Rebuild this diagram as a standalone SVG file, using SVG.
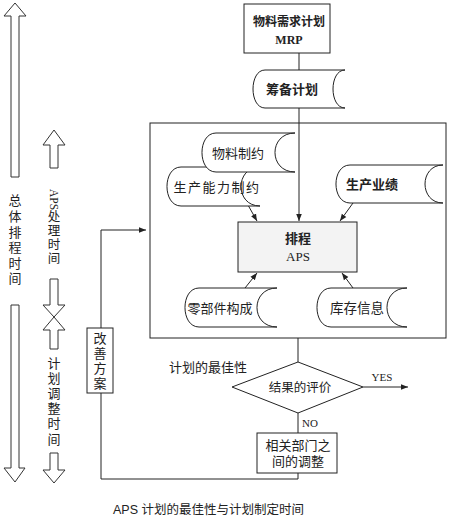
<svg xmlns="http://www.w3.org/2000/svg" width="449" height="518" viewBox="0 0 449 518">
<defs>
<marker id="ah" viewBox="0 0 10 10" refX="10" refY="5" markerWidth="7" markerHeight="7" markerUnits="userSpaceOnUse" orient="auto">
<path d="M0,1 L10,5 L0,9 Z" fill="#222"/>
</marker>
<style>
.ln{fill:none;stroke:#222;stroke-width:1}
.arw{fill:none;stroke:#222;stroke-width:1;marker-end:url(#ah)}
.bx{fill:#fff;stroke:#222;stroke-width:1}
.sd{fill:#fff;stroke:#222;stroke-width:1}
.bg{fill:#fff;stroke:#333;stroke-width:1}
.t{font-family:"Liberation Serif","Noto Sans CJK SC",serif;font-size:13px;fill:#222;text-anchor:middle;dominant-baseline:central}
.b{font-weight:bold}
.cap{font-family:"Liberation Sans","Noto Sans CJK SC",sans-serif;font-size:12.5px;fill:#222}
</style>
</defs>
<rect width="449" height="518" fill="#fff"/>

<g id="timeline-left">
<polygon class="bg" points="15,3 26,16 19,16 19,177 11,177 11,16 4,16"/>
<text class="t"><tspan x="15" y="200">总</tspan><tspan x="15" y="216">体</tspan><tspan x="15" y="232">排</tspan><tspan x="15" y="247">程</tspan><tspan x="15" y="263">时</tspan><tspan x="15" y="278">间</tspan></text>
<polygon class="bg" points="11,305 19,305 19,468 25,468 15,482 4,468 11,468"/>
</g>

<g id="timeline-aps">
<polygon class="bg" points="54,130 65,145 58,145 58,168 50,168 50,145 43,145"/>
<text x="50" y="189" transform="rotate(90 50 189)" style="font-family:'Liberation Serif',serif;font-size:11.5px;fill:#222">APS</text>
<text class="t" style="font-size:12.5px"><tspan x="54" y="217">处</tspan><tspan x="54" y="231">理</tspan><tspan x="54" y="245">时</tspan><tspan x="54" y="259">间</tspan></text>
<polygon class="bg" points="50,279 58,279 58,305 65,305 54,317 43,305 50,305"/>
</g>

<g id="timeline-adjust">
<polygon class="bg" points="54,317 65,330 58,330 58,349 50,349 50,330 43,330"/>
<text class="t"><tspan x="54" y="363">计</tspan><tspan x="54" y="378">划</tspan><tspan x="54" y="393">调</tspan><tspan x="54" y="408">整</tspan><tspan x="54" y="423">时</tspan><tspan x="54" y="439">间</tspan></text>
<polygon class="bg" points="50,453 58,453 58,470 65,470 54,483 43,470 50,470"/>
</g>

<g id="aps-area">
<rect class="ln" x="150" y="123" width="296" height="215"/>
</g>

<g id="connectors">
<line class="ln" x1="299" y1="53" x2="299" y2="70"/>
<line class="arw" x1="299" y1="108" x2="299" y2="221"/>
<line class="arw" x1="244" y1="198" x2="257" y2="221"/>
<line class="arw" x1="353" y1="203" x2="340" y2="221"/>
<line class="arw" x1="245" y1="288" x2="257" y2="273"/>
<line class="arw" x1="353" y1="288" x2="342" y2="273"/>
<line class="ln" x1="298" y1="338" x2="298" y2="362"/>
<line class="arw" x1="363" y1="387" x2="408" y2="387"/>
<line class="ln" x1="298" y1="413" x2="298" y2="433"/>
<polyline class="ln" points="298,473 298,479 101,479 101,393"/>
<polyline class="arw" points="101,328 101,230 146,230"/>
</g>

<g id="mrp">
<rect class="bx" x="244" y="4" width="86" height="49"/>
<text class="t b" x="289" y="22" style="font-size:12px">物料需求计划</text>
<text class="t b" x="289" y="40" style="font-size:12px">MRP</text>
</g>

<g id="prep-plan">
<path class="sd" d="M265,70 H345 C329,70 329,108 345,108 H265 C249,108 249,70 265,70 Z"/>
<text class="t b" x="292" y="89">筹备计划</text>
</g>

<g id="capacity">
<path class="sd" d="M181,167 H260 C234.7,167 234.7,206 260,206 H181 C162.3,206 162.3,167 181,167 Z"/>
<text class="t" x="217" y="187" style="letter-spacing:1.5px">生产能力制约</text>
</g>

<g id="material">
<path class="sd" d="M216,133 H295 C268.3,133 268.3,172 295,172 H216 C197.3,172 197.3,133 216,133 Z"/>
<text class="t" x="238" y="153">物料制约</text>
</g>

<g id="performance">
<path class="sd" d="M350,165 H443 C419,165 419,203 443,203 H350 C331.3,203 331.3,165 350,165 Z"/>
<text class="t b" x="372" y="184">生产业绩</text>
</g>

<g id="aps">
<rect x="238" y="222" width="119" height="50" fill="#f3f3f3" stroke="#222" stroke-width="1"/>
<text class="t b" x="298" y="238">排程</text>
<text class="t" x="298" y="256">APS</text>
</g>

<g id="parts">
<path class="sd" d="M199,288 H277 C250.3,288 250.3,327 277,327 H199 C180.3,327 180.3,288 199,288 Z"/>
<text class="t" x="220" y="308">零部件构成</text>
</g>

<g id="inventory">
<path class="sd" d="M331,288 H407 C380.3,288 380.3,327 407,327 H331 C312.3,327 312.3,288 331,288 Z"/>
<text class="t" x="357" y="308" style="font-size:13.5px">库存信息</text>
</g>

<g id="optimality-label">
<text class="t" x="208" y="367">计划的最佳性</text>
</g>

<g id="evaluation">
<polygon class="bx" points="298,362 363,387 298,413 232,387"/>
<text class="t" x="300" y="388" style="font-size:12.5px">结果的评价</text>
<text class="t" x="382" y="377" style="font-size:11px">YES</text>
<text class="t" x="310" y="423" style="font-size:11px">NO</text>
</g>

<g id="coordination">
<rect class="bx" x="257" y="433" width="80" height="40"/>
<text class="t" x="298" y="445">相关部门之</text>
<text class="t" x="298" y="461">间的调整</text>
</g>

<g id="improvement">
<rect class="bx" x="87" y="328" width="26" height="65"/>
<text class="t"><tspan x="100" y="338">改</tspan><tspan x="100" y="353">善</tspan><tspan x="100" y="368">方</tspan><tspan x="100" y="383">案</tspan></text>
</g>

<g id="caption">
<text class="cap" x="113" y="514">APS 计划的最佳性与计划制定时间</text>
</g>
</svg>
